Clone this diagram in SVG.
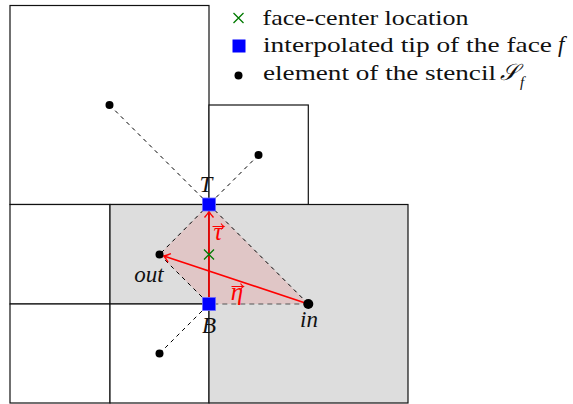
<svg xmlns="http://www.w3.org/2000/svg" width="573" height="404" viewBox="0 0 573 404">
<defs>
<style>
.cell{stroke:#111;stroke-width:1.2;}
.white{fill:#fff;}
.gray{fill:#dddddd;}
.dash{stroke:#000;stroke-width:1;stroke-dasharray:4 4;fill:none;}
.red{stroke:#f00;stroke-width:1.6;fill:none;}
.vec{stroke:#f00;stroke-width:1.1;fill:none;}
.dot{fill:#000;}
.tip{fill:#0000ff;stroke:#6a6aff;stroke-width:0.8;}
.cross{stroke:#007a00;stroke-width:1.3;}
.txt{font-family:"Liberation Serif","DejaVu Serif",serif;font-size:22px;fill:#111;}
.math{font-family:"Liberation Serif","DejaVu Serif",serif;font-size:23px;font-style:italic;fill:#111;}
.rmath{font-family:"Liberation Serif","DejaVu Serif",serif;font-size:25px;font-style:italic;fill:#f00;}
</style>
<marker id="ah" viewBox="-8 -6 10 12" refX="0" refY="0" markerWidth="10" markerHeight="12" orient="auto" markerUnits="userSpaceOnUse">
<path d="M-6,-4.5 Q-2,-1 0,0 Q-2,1 -6,4.5" fill="none" stroke="#f00" stroke-width="1.4"/>
</marker>
</defs>

<g id="grid">
<rect class="cell white" x="10" y="5.5" width="199" height="199"/>
<rect class="cell white" x="209" y="105" width="99.3" height="99.5"/>
<rect class="cell white" x="10" y="204.5" width="100" height="99.5"/>
<rect class="cell white" x="10" y="304" width="100" height="99"/>
<rect class="cell gray" x="110" y="204.5" width="99" height="99.5"/>
<rect class="cell white" x="110" y="304" width="99" height="99"/>
<rect class="cell gray" x="209" y="204.5" width="199" height="198.5"/>
</g>

<g id="region">
<polygon points="209,204.5 308.3,304 209,304 159.5,254.5" fill="#ff0000" fill-opacity="0.1"/>
</g>

<g id="connectors">
<line class="dash" x1="109.5" y1="105" x2="209" y2="204.5"/>
<line class="dash" x1="258.5" y1="155" x2="209" y2="204.5"/>
<line class="dash" x1="209" y1="204.5" x2="159.5" y2="254.5"/>
<line class="dash" x1="209" y1="204.5" x2="308.3" y2="304"/>
<line class="dash" x1="308.3" y1="304" x2="209" y2="304" style="stroke:#555;stroke-dasharray:5 4"/>
<line class="dash" x1="159.5" y1="254.5" x2="209" y2="304"/>
<line class="dash" x1="159.5" y1="353.5" x2="209" y2="304"/>
<line class="red" x1="209" y1="304" x2="209" y2="211.5" marker-end="url(#ah)"/>
<line class="red" x1="308.3" y1="304" x2="163.8" y2="255.9" marker-end="url(#ah)"/>
</g>

<g id="face-center">
<path class="cross" d="M204,249.5 L214,259.5 M214,249.5 L204,259.5"/>
</g>

<g id="tip-T">
<rect class="tip" x="202.5" y="198" width="13" height="13"/>
<text class="math" x="206" y="192" text-anchor="middle">T</text>
</g>
<g id="tip-B">
<rect class="tip" x="202.5" y="297.5" width="13" height="13"/>
<text class="math" x="209" y="333" text-anchor="middle">B</text>
</g>

<g id="stencil-1"><circle class="dot" cx="109.5" cy="105" r="4"/></g>
<g id="stencil-2"><circle class="dot" cx="258.5" cy="155" r="4"/></g>
<g id="stencil-out">
<circle class="dot" cx="159.5" cy="254.5" r="4"/>
<text class="math" x="149" y="281.5" text-anchor="middle">out</text>
</g>
<g id="stencil-in">
<circle class="dot" cx="308.3" cy="304" r="5"/>
<text class="math" x="309" y="326.5" text-anchor="middle">in</text>
</g>
<g id="stencil-3"><circle class="dot" cx="159.5" cy="353.5" r="4"/></g>

<g id="label-tau">
<text class="rmath" x="218" y="239.5" text-anchor="middle">τ</text>
<path class="vec" d="M212.5,226.5 L224,226.5 M221,223.5 Q222.5,225.8 224,226.5 Q222.5,227.2 221,229.5"/>
</g>
<g id="label-eta">
<text class="rmath" x="237" y="300" text-anchor="middle">η</text>
<path class="vec" d="M231.5,286.5 L243.5,286.5 M240.5,283.5 Q242,285.8 243.5,286.5 Q242,287.2 240.5,289.5"/>
</g>

<g id="legend">
<path class="cross" d="M233.5,13 L243.5,23 M243.5,13 L233.5,23"/>
<text class="txt" x="262.5" y="25" textLength="206" lengthAdjust="spacingAndGlyphs">face-center location</text>
<rect x="232.5" y="39.5" width="13" height="13" fill="#0000ff"/>
<text class="txt" x="263" y="51.5" textLength="289" lengthAdjust="spacingAndGlyphs">interpolated tip of the face</text>
<text class="math" x="558" y="51.5">f</text>
<circle class="dot" cx="238.5" cy="75.5" r="4"/>
<text class="txt" x="263" y="79.5" textLength="233" lengthAdjust="spacingAndGlyphs">element of the stencil</text>
<text class="math" x="500" y="80">𝒮</text>
<text class="math" x="520" y="87" style="font-size:15px">f</text>
</g>
</svg>
